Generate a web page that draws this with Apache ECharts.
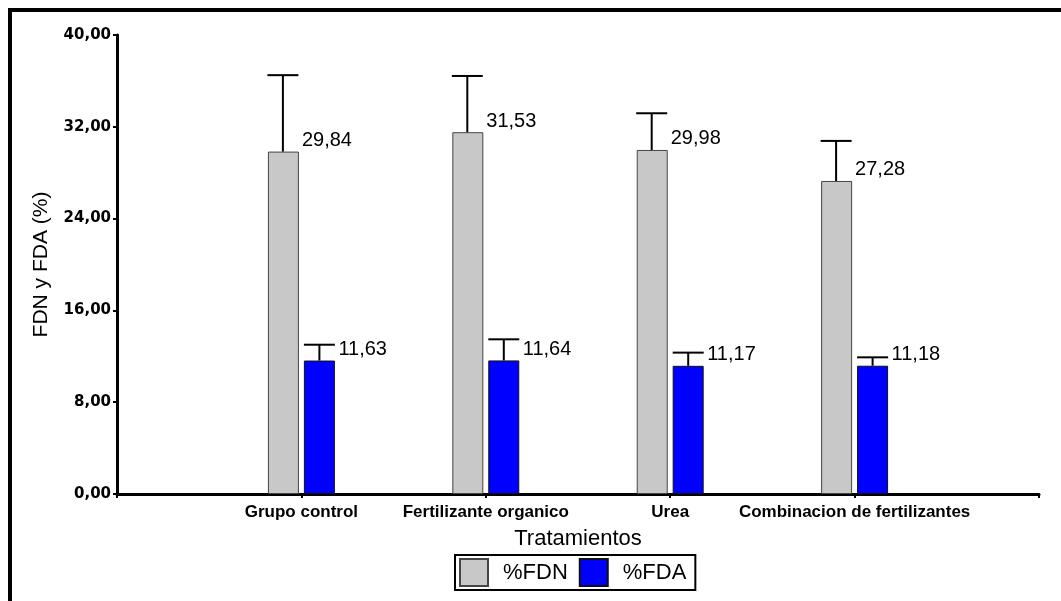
<!DOCTYPE html>
<html><head><meta charset="utf-8">
<script src="https://cdn.jsdelivr.net/npm/echarts@6/dist/echarts.min.js"></script>
<style>html,body{margin:0;padding:0;background:#fff}#c{width:1061px;height:601px}</style>
</head><body><div id="c"></div>
<script>
const categories = ['Grupo control', 'Fertilizante organico', 'Urea', 'Combinacion de fertilizantes'];
const seriesNames = ['%FDN', '%FDA'];
const fdn = [29.84, 31.53, 29.98, 27.28];
const fdnUpper = [36.5, 36.43, 33.18, 30.77];
const fda = [11.63, 11.64, 11.17, 11.18];
const fdaUpper = [13.01, 13.48, 12.32, 11.91];
const yTicks = [0, 8, 16, 24, 32, 40];

// padded category list so ticks fall at evenly spaced positions like the original
const xData = [''].concat(categories).concat(['']);
const pad = arr => [null].concat(arr).concat([null]);

const numFont = 'DejaVu Sans';
const txtFont = 'Liberation Sans, Arial';

function errSeries(name, vals, uppers, off) {
  return {
    type: 'custom', name: name, z: 5,
    data: vals.map((v, i) => [i + 1, v, uppers[i]]),
    encode: { x: 0, y: [1, 2] },
    renderItem: function (params, api) {
      const idx = api.value(0);
      const p0 = api.coord([idx, api.value(1)]);
      const p1 = api.coord([idx, api.value(2)]);
      const x = p0[0] + off;
      return {
        type: 'group', children: [
          { type: 'line', shape: { x1: x, y1: p0[1], x2: x, y2: p1[1] }, style: { stroke: '#000', lineWidth: 2 } },
          { type: 'line', shape: { x1: x - 15.5, y1: p1[1], x2: x + 15.5, y2: p1[1] }, style: { stroke: '#000', lineWidth: 2 } },
          { type: 'text', x: x + 19, y: p0[1] - 11,
            style: { text: api.value(1).toFixed(2).replace('.', ','), fill: '#000',
              font: '20px ' + txtFont, align: 'left', verticalAlign: 'middle' } }
        ]
      };
    }
  };
}

const chart = echarts.init(document.getElementById('c'));
chart.setOption({
  backgroundColor: '#fff',
  animation: false,
  graphic: [{
    type: 'polyline', silent: true,
    shape: { points: [[10, 601], [10, 10], [1061, 10]] },
    style: { stroke: '#000', lineWidth: 4, fill: null }
  }],
  grid: { left: 117, right: 22, top: 35, bottom: 107 },
  legend: {
    data: seriesNames, left: 455, top: 555, icon: 'rect',
    itemWidth: 28, itemHeight: 27, itemGap: 11,
    padding: [3, 9, 3, 4], borderColor: '#000', borderWidth: 2,
    textStyle: { fontFamily: txtFont, fontSize: 22, color: '#000', padding: [0, 0, 0, 10] }
  },
  xAxis: {
    type: 'category', data: xData, boundaryGap: false,
    name: 'Tratamientos', nameLocation: 'middle', nameGap: 34,
    nameTextStyle: { fontFamily: txtFont, fontSize: 22, color: '#000' },
    axisLine: { lineStyle: { color: '#000', width: 3 } },
    axisTick: { show: true, length: 4, interval: 0, lineStyle: { color: '#000', width: 2 } },
    axisLabel: { interval: 0, margin: 10, fontFamily: txtFont, fontWeight: 'bold', fontSize: 17, color: '#000' },
    splitLine: { show: false }
  },
  yAxis: {
    type: 'value', min: yTicks[0], max: yTicks[yTicks.length - 1], interval: yTicks[1] - yTicks[0],
    name: 'FDN y FDA (%)', nameLocation: 'middle', nameGap: 65,
    nameTextStyle: { fontFamily: txtFont, fontSize: 21, color: '#000' },
    axisLine: { show: true, lineStyle: { color: '#000', width: 3 } },
    axisTick: { show: true, length: 4, lineStyle: { color: '#000', width: 2 } },
    axisLabel: { margin: 6, fontFamily: numFont, fontWeight: 'bold', fontSize: 15, color: '#000',
      formatter: v => v.toFixed(2).replace('.', ',') },
    splitLine: { show: false }
  },
  series: [
    { type: 'bar', name: seriesNames[0], data: pad(fdn), barWidth: 31, barGap: '16%',
      itemStyle: { color: '#c8c8c8', borderColor: '#444', borderWidth: 1 } },
    { type: 'bar', name: seriesNames[1], data: pad(fda), barWidth: 31,
      itemStyle: { color: '#0000ff', borderColor: '#111', borderWidth: 1 } },
    errSeries('errFDN', fdn, fdnUpper, -18.5),
    errSeries('errFDA', fda, fdaUpper, 18)
  ]
});
</script></body></html>
